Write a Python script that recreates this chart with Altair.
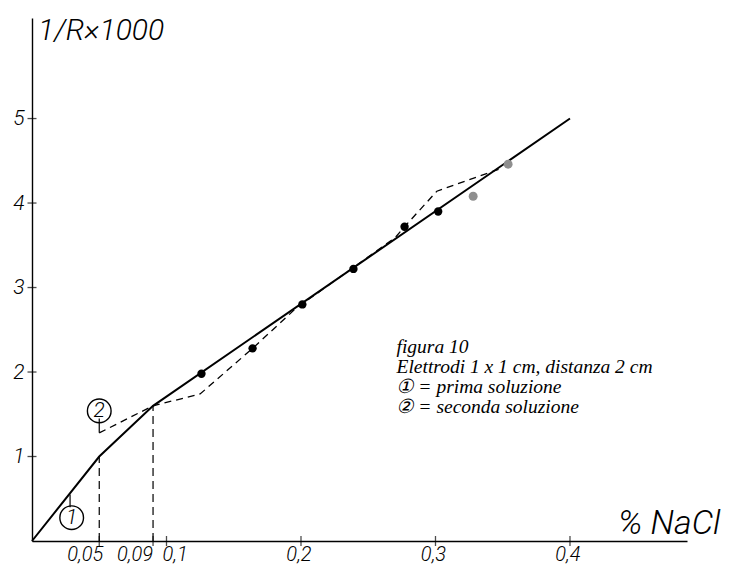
import altair as alt
import pandas as pd

# ---- data ----
solid_x = [0.0, 0.05, 0.09, 0.40]
solid_y = [0.0, 1.0, 1.6, 5.0]

dash_x = [0.05, 0.09, 0.125, 0.164, 0.196, 0.270, 0.277, 0.301, 0.347]
dash_y = [1.28, 1.60, 1.74, 2.28, 2.75, 3.59, 3.72, 4.14, 4.40]

black_x = [0.126, 0.164, 0.201, 0.239, 0.277, 0.302]
black_y = [1.98, 2.28, 2.80, 3.22, 3.72, 3.90]

grey_x = [0.328, 0.354]
grey_y = [4.08, 4.46]

guide_x = [0.05, 0.09]
guide_bottom = [0.0, 0.0]
guide_top = [1.0, 1.6]

x_ticks = [0.05, 0.09, 0.1, 0.2, 0.3, 0.4]
x_tick_labels = ["0,05", "0,09", "0,1", "0,2", "0,3", "0,4"]
y_ticks = [1, 2, 3, 4, 5]

circle_labels = ["1", "2"]
circle_x = [0.0295, 0.050]
circle_y = [0.276, 1.54]
leader_x = [0.0283, 0.050]
leader_y1 = [0.40, 1.45]
leader_y2 = [0.55, 1.28]

y_title = "1/R×1000"
x_title = "% NaCl"
note_lines = ["figura 10", "Elettrodi 1 x 1 cm, distanza 2 cm",
              "① = prima soluzione", "② = seconda soluzione"]

# ---- chart ----
XMAX, YMAX = 0.487, 6.19
xs = alt.Scale(domain=[0, XMAX], nice=False, zero=False)
ys = alt.Scale(domain=[0, YMAX], nice=False, zero=False)
SANS = "Roboto, 'DejaVu Sans', sans-serif"
SERIF = "'Liberation Serif', 'DejaVu Serif', serif"
LABEL_Y = -0.24  # baseline of x tick labels, just under the axis

solid_df = pd.DataFrame({"x": solid_x, "y": solid_y})
dash_df = pd.DataFrame({"x": dash_x, "y": dash_y})
black_df = pd.DataFrame({"x": black_x, "y": black_y})
grey_df = pd.DataFrame({"x": grey_x, "y": grey_y})
guide_df = pd.DataFrame({"x": guide_x, "y": guide_bottom, "y2": guide_top})
xt_df = pd.DataFrame({"x": x_ticks, "y": [0.0] * len(x_ticks)})
yt_df = pd.DataFrame({"y": y_ticks, "x": [0.0] * len(y_ticks)})
xl_df = pd.DataFrame({"x": x_ticks, "t": x_tick_labels, "y": [LABEL_Y] * len(x_ticks)})
circ_df = pd.DataFrame({"t": circle_labels, "x": circle_x, "y": circle_y})
lead_df = pd.DataFrame({"x": leader_x, "y": leader_y1, "y2": leader_y2})
ytitle_df = pd.DataFrame({"t": [y_title], "x": [0.0045], "y": [5.93]})
xtitle_df = pd.DataFrame({"t": [x_title], "x": [0.4357], "y": [0.083]})
note_df = pd.DataFrame({"t": ["\n".join(note_lines)], "x": [0.271], "y": [2.30]})

x_axis = alt.Axis(
    values=x_ticks, title=None, grid=False, ticks=False, labels=False,
    domainColor="black", domainWidth=1.4,
)
y_axis = alt.Axis(
    values=y_ticks, title=None, grid=False, ticks=False, labelOverlap=False,
    domainColor="black", domainWidth=1.4,
    labelFont=SANS, labelFontStyle="italic", labelFontWeight=300,
    labelFontSize=21, labelColor="black", labelPadding=8,
)

X = alt.X("x:Q", scale=xs, axis=x_axis)
Y = alt.Y("y:Q", scale=ys, axis=y_axis)

base_axes = alt.Chart(solid_df).mark_line(color="black", strokeWidth=2).encode(x=X, y=Y)

dash = alt.Chart(dash_df).mark_line(color="black", strokeWidth=1.3, strokeDash=[7, 5]).encode(x=X, y=Y)

guides = alt.Chart(guide_df).mark_rule(color="black", strokeWidth=1.2, strokeDash=[8, 5]).encode(
    x=X, y=Y, y2="y2:Q")

black_pts = alt.Chart(black_df).mark_circle(color="black", size=70, opacity=1).encode(x=X, y=Y)
grey_pts = alt.Chart(grey_df).mark_circle(color="#8f8f8f", size=80, opacity=1).encode(x=X, y=Y)

xticks = alt.Chart(xt_df).mark_tick(orient="vertical", size=10, thickness=1.3, color="black").encode(x=X, y=Y)
yticks = alt.Chart(yt_df).mark_tick(orient="horizontal", size=9, thickness=1.3, color="black").encode(x=X, y=Y)

lab_style = dict(font=SANS, fontStyle="italic", fontWeight=300, fontSize=20,
                 color="black", baseline="alphabetic")
xl_right = alt.Chart(xl_df.iloc[0:1]).mark_text(align="right", dx=4, **lab_style).encode(x=X, y=Y, text="t:N")
xl_right2 = alt.Chart(xl_df.iloc[1:2]).mark_text(align="right", dx=0, **lab_style).encode(x=X, y=Y, text="t:N")
xl_left = alt.Chart(xl_df.iloc[2:3]).mark_text(align="left", dx=-4, **lab_style).encode(x=X, y=Y, text="t:N")
xl_center = alt.Chart(xl_df.iloc[3:]).mark_text(align="center", dx=-2, **lab_style).encode(x=X, y=Y, text="t:N")

circles = alt.Chart(circ_df).mark_point(shape="circle", filled=False, size=560,
                                        color="black", strokeWidth=1.4, opacity=1).encode(x=X, y=Y)
circle_txt = alt.Chart(circ_df).mark_text(font=SANS, fontStyle="italic", fontWeight=300,
                                          fontSize=21, color="black", baseline="middle").encode(
    x=X, y=Y, text="t:N")
leaders = alt.Chart(lead_df).mark_rule(color="black", strokeWidth=1.2).encode(x=X, y=Y, y2="y2:Q")

ytitle = alt.Chart(ytitle_df).mark_text(
    font=SANS, fontStyle="italic", fontWeight=300, fontSize=30, color="black",
    align="left", baseline="alphabetic").encode(x=X, y=Y, text="t:N")
xtitle = alt.Chart(xtitle_df).mark_text(
    font=SANS, fontStyle="italic", fontWeight=300, fontSize=34, color="black",
    align="left", baseline="alphabetic").encode(x=X, y=Y, text="t:N")

note = alt.Chart(note_df).mark_text(
    font=SERIF, fontStyle="italic", fontSize=19.5, color="black", align="left",
    baseline="middle", lineBreak="\n", lineHeight=20).encode(x=X, y=Y, text="t:N")

chart = alt.layer(
    base_axes, guides, dash, black_pts, grey_pts, xticks, yticks,
    xl_right, xl_right2, xl_left, xl_center,
    leaders, circles, circle_txt, ytitle, xtitle, note,
).properties(
    width=655, height=523, autosize=alt.AutoSizeParams(type="none"),
    padding={"left": 24, "top": 10, "right": 34, "bottom": 26},
).configure(background="white", view=alt.ViewConfig(stroke=None, strokeWidth=0))

chart.save("out.html", embed_options={"renderer": "svg", "actions": False})
